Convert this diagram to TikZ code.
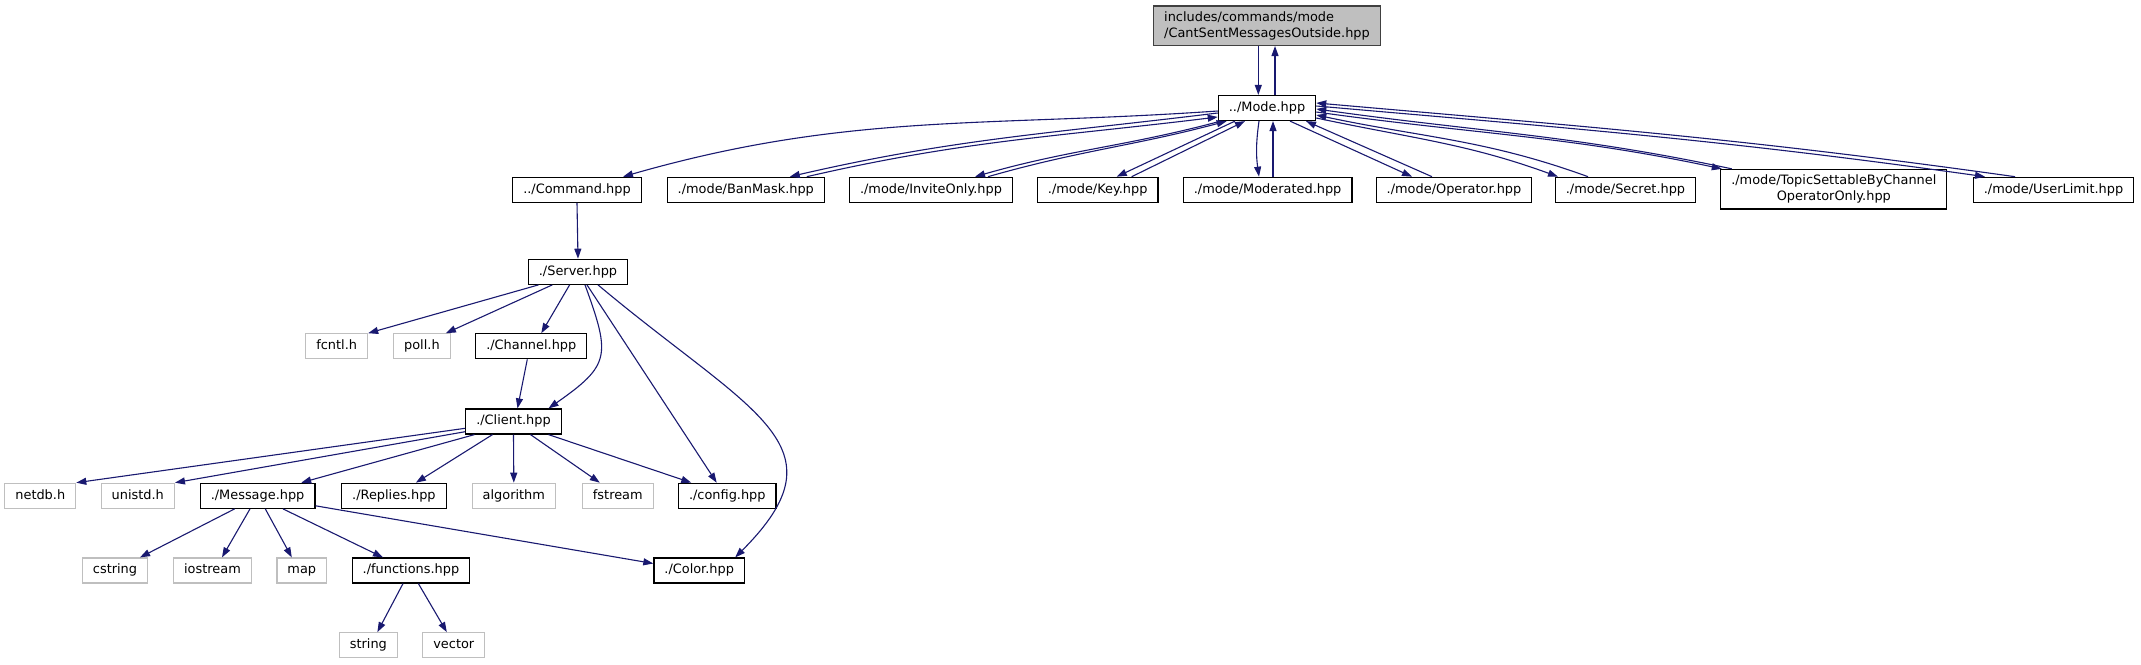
\documentclass[tikz,border=0pt]{standalone}
\usepackage{fontspec}
\setmainfont{DejaVu Sans}
\usetikzlibrary{arrows.meta}
\definecolor{edgeblue}{HTML}{191970}
\definecolor{grey75}{HTML}{BFBFBF}

\begin{document}
\begin{tikzpicture}[x=1pt, y=1pt,
    box/.style={draw=black, fill=white, line width=1.2pt, inner xsep=10.5pt, inner ysep=5.5pt,
        minimum height=25pt, font=\fontsize{12.9}{16}\selectfont},
    hdr/.style={box, text height=9.8pt, text depth=3pt},
    syshdr/.style={hdr, draw=grey75},
    roothdr/.style={box, fill=grey75, draw=black!75, align=left},
    incl/.style={draw=edgeblue, line width=1.1pt, -{Triangle[length=10pt,width=7pt]}}]

    \path[use as bounding box, fill=white] (0,0) rectangle (2141,664);

    % Root and Mode
    \node[roothdr] (root) at (1267,638.3) {includes/commands/mode\\/CantSentMessagesOutside.hpp};
    \node[hdr] (mode) at (1267,556) {../Mode.hpp};

    % Mode level
    \node[hdr] (command) at (577,474.2) {../Command.hpp};
    \node[hdr] (banmask) at (745.8,474.2) {./mode/BanMask.hpp};
    \node[hdr] (inviteonly) at (931,474.2) {./mode/InviteOnly.hpp};
    \node[hdr] (key) at (1097.7,474.2) {./mode/Key.hpp};
    \node[hdr] (moderated) at (1267.6,474.2) {./mode/Moderated.hpp};
    \node[hdr] (operator) at (1454,474.2) {./mode/Operator.hpp};
    \node[hdr] (secret) at (1625.5,474.2) {./mode/Secret.hpp};
    \node[box, align=center] (topic) at (1833.8,474.8) {./mode/TopicSettableByChannel\\OperatorOnly.hpp};
    \node[hdr] (userlimit) at (2053.5,474.2) {./mode/UserLimit.hpp};

    % Server level
    \node[hdr] (server) at (578,392.2) {./Server.hpp};
    \node[syshdr] (fcntl) at (336.7,317.7) {fcntl.h};
    \node[syshdr] (poll) at (421.9,317.7) {poll.h};
    \node[hdr] (channel) at (531.3,317.7) {./Channel.hpp};
    \node[hdr] (client) at (513.5,242.5) {./Client.hpp};

    % Client level
    \node[syshdr] (netdb) at (40.3,168.2) {netdb.h};
    \node[syshdr] (unistd) at (137.8,168.2) {unistd.h};
    \node[hdr] (message) at (257.6,168.2) {./Message.hpp};
    \node[hdr] (replies) at (393.9,168.2) {./Replies.hpp};
    \node[syshdr] (algorithm) at (513.8,168.2) {algorithm};
    \node[syshdr] (fstream) at (617.8,168.2) {fstream};
    \node[hdr] (config) at (727.3,168.2) {./config.hpp};

    % Message level
    \node[syshdr] (cstring) at (115,93.5) {cstring};
    \node[syshdr] (iostream) at (212.5,93.5) {iostream};
    \node[syshdr] (map) at (301.8,93.5) {map};
    \node[hdr] (functions) at (411,93.5) {./functions.hpp};
    \node[hdr] (colorh) at (699.2,93.5) {./Color.hpp};
    \node[syshdr] (string) at (368.4,18.8) {string};
    \node[syshdr] (vector) at (453.8,18.8) {vector};

    % Root <-> Mode
    \draw[incl] ([xshift=-8.7]root.south) -- ([xshift=-8.7]mode.north);
    \draw[incl] ([xshift=8]mode.north) -- ([xshift=8]root.south);

    % Mode includes and back
    \draw[incl] ([yshift=-3]mode.west) to[out=184,in=16] ([xshift=46]command.north);
    \draw[incl] ([yshift=-5]mode.west) to[out=187,in=13] ([xshift=44]banmask.north);
    \draw[incl] ([xshift=61]banmask.north) to[out=13,in=187] ([yshift=-9]mode.west);
    \draw[incl] ([xshift=3]mode.south west) to[out=195,in=16] ([xshift=44]inviteonly.north);
    \draw[incl] ([xshift=57]inviteonly.north) to[out=16,in=195] ([xshift=9]mode.south west);
    \draw[incl] ([xshift=-32]mode.south) -- ([xshift=19]key.north);
    \draw[incl] ([xshift=34]key.north) -- ([xshift=-22]mode.south);
    \draw[incl] ([xshift=-8]mode.south) to[bend right=8] ([xshift=-8.6]moderated.north);
    \draw[incl] ([xshift=5.4]moderated.north) -- ([xshift=6]mode.south);
    \draw[incl] ([xshift=23]mode.south) -- ([xshift=-42]operator.north);
    \draw[incl] ([xshift=-22]operator.north) -- ([xshift=39]mode.south);
    \draw[incl] ([yshift=-10]mode.east) to[out=-12,in=160] ([xshift=-67.5]secret.north);
    \draw[incl] ([xshift=-37.5]secret.north) to[out=160,in=-12] ([yshift=-7]mode.east);
    \draw[incl] ([yshift=-4]mode.east) to[out=-8,in=168] ([xshift=-112]topic.north);
    \draw[incl] ([xshift=-102]topic.north) to[out=168,in=-8] ([yshift=-1]mode.east);
    \draw[incl] ([yshift=2]mode.east) to[out=-5,in=172] ([xshift=-68.5]userlimit.north);
    \draw[incl] ([xshift=-38.5]userlimit.north) to[out=172,in=-5] ([yshift=5]mode.east);

    % Command and Server
    \draw[incl] (command.south) -- (server.north);
    \draw[incl] ([xshift=-39.5]server.south) -- (fcntl.north east);
    \draw[incl] ([xshift=-25.7]server.south) -- ([xshift=24]poll.north);
    \draw[incl] ([xshift=-8.4]server.south) -- ([xshift=10]channel.north);
    \draw[incl] ([xshift=7]server.south) to[out=-70,in=35,looseness=1.5] ([xshift=35]client.north);
    \draw[incl] ([xshift=9]server.south) -- ([xshift=-10.6]config.north);
    \draw[incl] ([xshift=20]server.south) to[out=-40,in=45,out distance=200,in distance=160] ([xshift=36]colorh.north);
    \draw[incl] ([xshift=-4]channel.south) -- ([xshift=4]client.north);

    % Client
    \draw[incl] ([yshift=-6.8]client.west) -- (netdb.north east);
    \draw[incl] ([yshift=-10.2]client.west) -- (unistd.north east);
    \draw[incl] ([xshift=-39]client.south) -- ([xshift=43.6]message.north);
    \draw[incl] ([xshift=-21]client.south) -- ([xshift=22]replies.north);
    \draw[incl] (client.south) -- (algorithm.north);
    \draw[incl] ([xshift=17]client.south) -- ([xshift=-18]fstream.north);
    \draw[incl] ([xshift=35]client.south) -- ([xshift=-36]config.north);

    % Message and functions
    \draw[incl] ([xshift=-23]message.south) -- ([xshift=25]cstring.north);
    \draw[incl] ([xshift=-7.6]message.south) -- ([xshift=9.5]iostream.north);
    \draw[incl] ([xshift=7.7]message.south) -- ([xshift=-10]map.north);
    \draw[incl] ([xshift=25.4]message.south) -- ([xshift=-28]functions.north);
    \draw[incl] ([yshift=-10]message.east) -- ([yshift=7]colorh.west);
    \draw[incl] ([xshift=-8]functions.south) -- ([xshift=9]string.north);
    \draw[incl] ([xshift=7.4]functions.south) -- ([xshift=-7]vector.north);

\end{tikzpicture}
\end{document}
